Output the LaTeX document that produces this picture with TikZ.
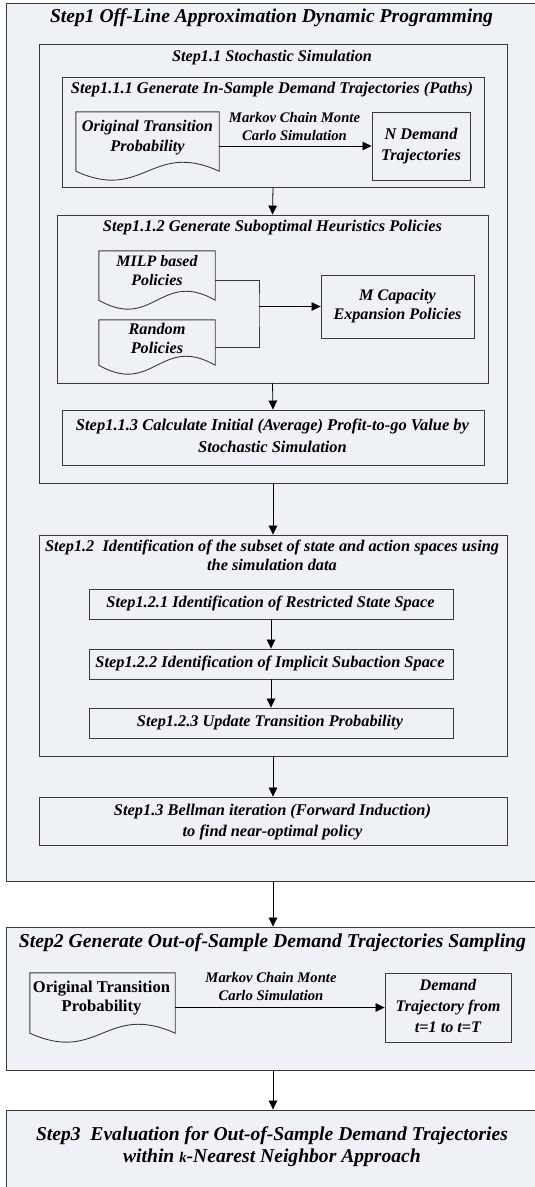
\documentclass[tikz,border=0pt]{standalone}
\usepackage{fontspec}
\usepackage{graphicx}
\setmainfont{Liberation Serif}
\usetikzlibrary{arrows.meta,calc,fit}
\definecolor{bgc}{HTML}{EEF1F6}
\definecolor{ln}{HTML}{3A3A3A}
\tikzset{
  box/.style={draw=ln, fill=bgc, line width=0.9pt, inner sep=0pt},
  hole/.style={inner sep=0pt, draw=none},
  txt/.style={font=\bfseries\itshape, align=center, inner sep=0pt},
  tup/.style={font=\bfseries, align=center, inner sep=0pt},
  arr/.style={draw=black, line width=0.8pt, -{Triangle[length=9pt,width=8.5pt]}},
  link/.style={draw=ln, line width=0.8pt},
  docline/.style={draw=ln, fill=bgc, line width=0.9pt},
}
% #1 target width (pt), #2 base line spacing (at 14pt), #3 text
\newcommand\fitt[3]{\resizebox{#1pt}{!}{\fontsize{14}{#2}\selectfont\begin{tabular}{@{}c@{}}#3\end{tabular}}}
\newcommand\docoutline[1]{%
  \path[docline] ($(#1.south west)+(0,9pt)$) -- (#1.north west) -- (#1.north east)
    -- ($(#1.south east)+(0,9pt)$)
    .. controls ($(#1.south)+(4pt,40pt)$) and ($(#1.south)+(-4pt,-22pt)$)
    .. ($(#1.south west)+(0,9pt)$) -- cycle;}
\begin{document}
\begin{tikzpicture}[x=1pt,y=-1pt]
\useasboundingbox (0,0) rectangle (535,1187);
\clip (0,0) rectangle (535,1187);
\fill[white] (0,0) rectangle (535,1187);

% ---------- Step 1 ----------
\node[box, fit={(6,3) (560,881)}] (s1) {};
\node[txt] (s1t) at (271.5,18) {\fitt{443}{17}{Step1 Off-Line Approximation Dynamic Programming}};

\node[box, fit={(39,44) (507,483)}] (s11) {};
\node[txt] (s11t) at (272,58) {\fitt{200}{17}{Step1.1 Stochastic Simulation}};

\node[box, fit={(62,77) (484,187)}] (s111) {};
\node[txt] (s111t) at (272,90) {\fitt{402}{17}{Step1.1.1 Generate In-Sample Demand Trajectories (Paths)}};

\node[hole, fit={(76,112) (219,180)}] (d1) {};
\docoutline{d1}
\node[txt] (d1t) at (147.5,137) {\fitt{131}{17.2}{Original Transition\\Probability}};
\node[box, fit={(372,112) (470,180)}] (nd) {};
\node[txt] (ndt) at (421,146) {\fitt{80}{17.2}{N Demand\\Trajectories}};
\draw[arr] (d1.east) -- (nd.west);
\node[txt] (mc1) at (294.5,128) {\fitt{131}{17}{Markov Chain Monte\\Carlo Simulation}};

\node[box, fit={(57,215) (488,383)}] (s112) {};
\node[txt] (s112t) at (272.5,228) {\fitt{339}{17}{Step1.1.2 Generate Suboptimal Heuristics Policies}};

\node[hole, fit={(99,251) (215,309)}] (milp) {};
\docoutline{milp}
\node[txt] (milpt) at (157,272) {\fitt{81}{17.2}{MILP based\\Policies}};
\node[hole, fit={(99,320) (215,374)}] (rnd) {};
\docoutline{rnd}
\node[txt] (rndt) at (157,340) {\fitt{57}{16.5}{Random\\Policies}};
\node[box, fit={(321,275) (474,338)}] (mcap) {};
\node[txt] (mcapt) at (397.5,306.5) {\fitt{128}{16.5}{M Capacity\\Expansion Policies}};
\coordinate (j) at (259,306.5);
\draw[link] (milp.east) -| (j) |- (rnd.east);
\draw[arr] (j) -- (mcap.west);

\node[box, fit={(62,410) (484,465)}] (s113) {};
\node[txt] (s113t) at (272.5,437.5) {\fitt{393}{18.5}{Step1.1.3 Calculate Initial (Average) Profit-to-go Value by\\Stochastic Simulation}};

\draw[arr] (s111.south) -- (s112.north);
\draw[arr] (s112.south) -- (s113.north);

\node[box, fit={(39,535) (507,756)}] (s12) {};
\node[txt] (s12t) at (272,557.5) {\fitt{454}{16.3}{Step1.2\ \ Identification of the subset of state and action spaces using\\the simulation data}};
\node[box, fit={(89,589) (453,619)}] (s121) {};
\node[txt] (s121t) at (270.5,604) {\fitt{328}{17}{Step1.2.1 Identification of Restricted State Space}};
\node[box, fit={(89,649) (453,679)}] (s122) {};
\node[txt] (s122t) at (270,664) {\fitt{349}{17}{Step1.2.2 Identification of Implicit Subaction Space}};
\node[box, fit={(89,708) (453,738)}] (s123) {};
\node[txt] (s123t) at (270,723) {\fitt{266}{17}{Step1.2.3 Update Transition Probability}};
\draw[arr] (s121.south) -- (s122.north);
\draw[arr] (s122.south) -- (s123.north);

\node[box, fit={(39,797) (507,845)}] (s13) {};
\node[txt] (s13t) at (272.5,821.5) {\fitt{317}{18}{Step1.3 Bellman iteration (Forward Induction)\\to find near-optimal policy}};

\draw[arr] (s11.south) -- (s12.north);
\draw[arr] (s12.south) -- (s13.north);

% ---------- Step 2 ----------
\node[box, fit={(6,927) (560,1070)}] (s2) {};
\node[txt] (s2t) at (272.5,943) {\fitt{507}{17}{Step2 Generate Out-of-Sample Demand Trajectories Sampling}};
\node[hole, fit={(30,973) (175,1042)}] (d2) {};
\docoutline{d2}
\node[tup] (d2t) at (101.5,998.5) {\fitt{137}{16}{Original Transition\\Probability}};
\node[box, fit={(385,973) (511,1042)}] (dt) {};
\node[txt] (dtt) at (448,1007.5) {\fitt{105}{18}{Demand\\Trajectory from\\t=1 to t=T}};
\draw[arr] (d2.east) -- (dt.west);
\node[txt] (mc2) at (271,987.5) {\fitt{131}{17.5}{Markov Chain Monte\\Carlo Simulation}};

\draw[arr] (s1.south -| s11.south) -- (s2.north -| s11.south);

% ---------- Step 3 ----------
\node[box, fit={(6,1110) (560,1200)}] (s3) {};
\node[txt] (s3t) at (272,1147) {\fitt{472}{15.8}{Step3\ \ Evaluation for Out-of-Sample Demand Trajectories\\within {\fontsize{10.5}{12}\selectfont k}-Nearest Neighbor Approach}};
\draw[arr] (s2.south -| s11.south) -- (s3.north -| s11.south);
\end{tikzpicture}
\end{document}
